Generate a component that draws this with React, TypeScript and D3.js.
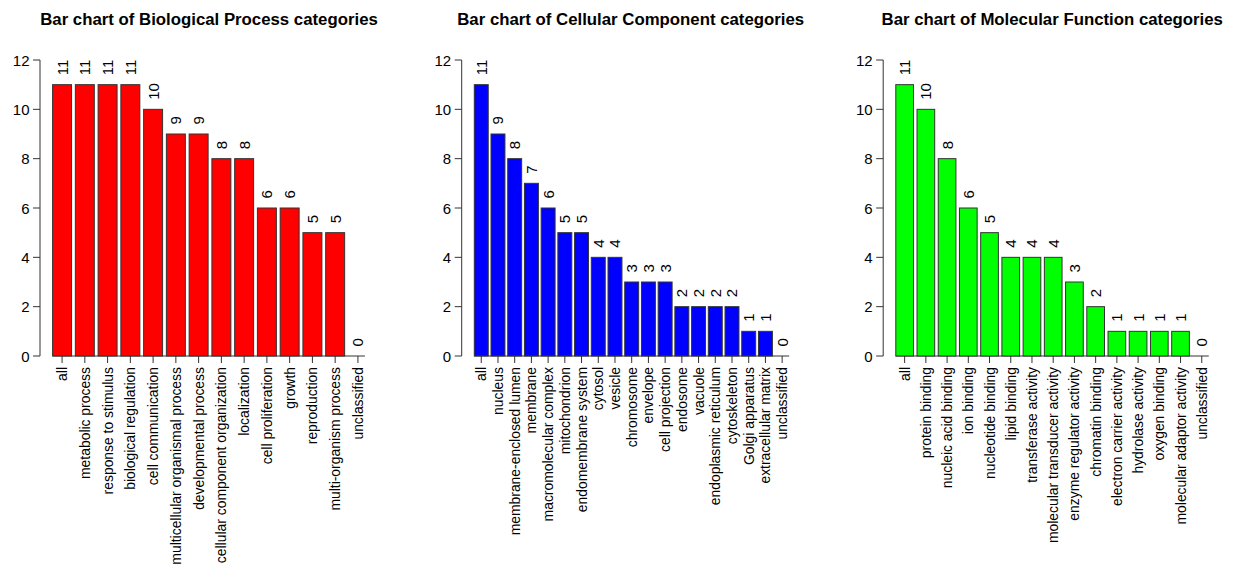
import React from "react";
import * as d3 from "d3";

const bpCategories = ["all", "metabolic process", "response to stimulus", "biological regulation", "cell communication", "multicellular organismal process", "developmental process", "cellular component organization", "localization", "cell proliferation", "growth", "reproduction", "multi-organism process", "unclassified"];
const bpValues = [11, 11, 11, 11, 10, 9, 9, 8, 8, 6, 6, 5, 5, 0];

const ccCategories = ["all", "nucleus", "membrane-enclosed lumen", "membrane", "macromolecular complex", "mitochondrion", "endomembrane system", "cytosol", "vesicle", "chromosome", "envelope", "cell projection", "endosome", "vacuole", "endoplasmic reticulum", "cytoskeleton", "Golgi apparatus", "extracellular matrix", "unclassified"];
const ccValues = [11, 9, 8, 7, 6, 5, 5, 4, 4, 3, 3, 3, 2, 2, 2, 2, 1, 1, 0];

const mfCategories = ["all", "protein binding", "nucleic acid binding", "ion binding", "nucleotide binding", "lipid binding", "transferase activity", "molecular transducer activity", "enzyme regulator activity", "chromatin binding", "electron carrier activity", "hydrolase activity", "oxygen binding", "molecular adaptor activity", "unclassified"];
const mfValues = [11, 10, 8, 6, 5, 4, 4, 4, 3, 2, 1, 1, 1, 1, 0];

const yTicks = [0, 2, 4, 6, 8, 10, 12];

const panels = [
  { title: "Bar chart of Biological Process categories", cats: bpCategories, vals: bpValues, color: "#FF0000", left: 40 },
  { title: "Bar chart of Cellular Component categories", cats: ccCategories, vals: ccValues, color: "#0000FF", left: 461.7 },
  { title: "Bar chart of Molecular Function categories", cats: mfCategories, vals: mfValues, color: "#00FF00", left: 883.2 },
];

const FONT = "'Liberation Sans', Arial, Helvetica, sans-serif";
const PW = 340;
const Y0 = 356;
const Y12 = 60;
const AX = "#333";
const FS = 13.9;
const NFS = 15;

function Panel({ p }: { p: typeof panels[number] }) {
  const n = p.cats.length;
  const lo = 0.2;
  const hi = n * 1.2;
  const pad = 0.04 * (hi - lo);
  const x = d3.scaleLinear().domain([lo - pad, hi + pad]).range([p.left, p.left + PW]);
  const y = d3.scaleLinear().domain([0, 12]).range([Y0, Y12]);
  const centers = p.cats.map((_, i) => i * 1.2 + 0.2 + 0.5);
  const lastC = x(centers[n - 1]);
  return (
    <g>
      <text x={p.left + PW / 2 - 1} y={25} textAnchor="middle" fontWeight="bold" fontSize={16.8} fontFamily={FONT} fill="#000">
        {p.title}
      </text>
      <line x1={p.left} x2={p.left} y1={y(0)} y2={y(12)} stroke={AX} strokeWidth={1} />
      {yTicks.map((t) => (
        <g key={t}>
          <line x1={p.left - 7} x2={p.left} y1={y(t)} y2={y(t)} stroke={AX} />
          <text x={p.left - 10.5} y={y(t)} textAnchor="end" dominantBaseline="central" fontSize={NFS} fontFamily={FONT} fill="#000">
            {t}
          </text>
        </g>
      ))}
      <line x1={x(0.2)} x2={lastC + 7} y1={Y0} y2={Y0} stroke={AX} />
      {p.cats.map((c, i) => {
        const cx = x(centers[i]);
        return (
          <g key={c}>
            <line x1={cx} x2={cx} y1={Y0} y2={Y0 + 7} stroke={AX} />
            <text transform={`translate(${cx},${Y0 + 11}) rotate(-90)`} textAnchor="end" dominantBaseline="central" fontSize={FS} fontFamily={FONT} fill="#000">
              {c}
            </text>
          </g>
        );
      })}
      {p.vals.map((v, i) => {
        const x0 = x(i * 1.2 + 0.2);
        const x1 = x(i * 1.2 + 1.2);
        return v > 0 ? (
          <rect key={i} x={x0} y={y(v)} width={x1 - x0} height={y(0) - y(v)} fill={p.color} stroke={AX} strokeWidth={1} />
        ) : null;
      })}
      {p.vals.map((v, i) => {
        const cx = x(centers[i]);
        return (
          <text key={"v" + i} transform={`translate(${cx},${y(v) - 9.5}) rotate(-90)`} textAnchor="start" dominantBaseline="central" fontSize={NFS} fontFamily={FONT} fill="#000">
            {v}
          </text>
        );
      })}
    </g>
  );
}

export default function App() {
  return (
    <svg width={1238} height={577} style={{ position: "absolute", left: 0, top: 0, background: "#fff" }}>
      <rect x={0} y={0} width={1238} height={577} fill="#fff" />
      {panels.map((p) => (
        <Panel key={p.title} p={p} />
      ))}
    </svg>
  );
}
